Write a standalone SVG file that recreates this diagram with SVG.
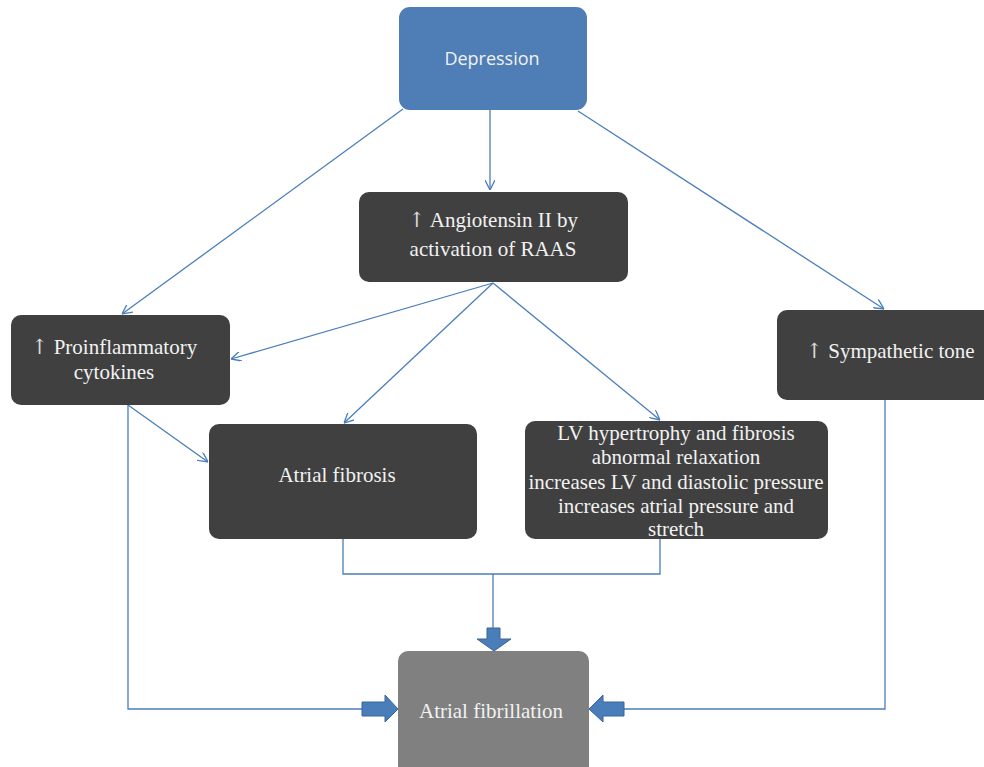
<svg xmlns="http://www.w3.org/2000/svg" width="984" height="767" viewBox="0 0 984 767">
<defs>
<marker id="v" viewBox="0 0 10 10" refX="10" refY="5" markerWidth="10" markerHeight="10" markerUnits="userSpaceOnUse" orient="auto">
<polyline points="0,0 10,5 0,10" fill="none" stroke="#4A7EBB" stroke-width="1.3"/>
</marker>
</defs>
<style>
.box{fill:#404040}
.t{font-family:"Liberation Serif","Times New Roman",serif;font-size:21px;fill:#F2F2F2;text-anchor:middle}
.s{font-family:"Open Sans","Liberation Sans",sans-serif;font-size:18px;fill:#F2F2F2;text-anchor:middle}
.a{font-family:"DejaVu Serif",serif;font-size:21px;fill:#D9D9D9}
.c{fill:none;stroke:#4A7EBB;stroke-width:1.3}
.blk{fill:#4A7EBB;stroke:#3A6597;stroke-width:1}
</style>
<rect width="984" height="767" fill="#fff"/>
<g id="connectors">
<line class="c" x1="490" y1="88" x2="490" y2="190" marker-end="url(#v)"/>
<line class="c" x1="403" y1="109" x2="122" y2="314" marker-end="url(#v)"/>
<line class="c" x1="578" y1="111" x2="884" y2="309" marker-end="url(#v)"/>
<line class="c" x1="493" y1="283" x2="231" y2="359" marker-end="url(#v)"/>
<line class="c" x1="493" y1="283" x2="344" y2="423" marker-end="url(#v)"/>
<line class="c" x1="493" y1="283" x2="660" y2="420" marker-end="url(#v)"/>
<line class="c" x1="128" y1="405" x2="208" y2="462" marker-end="url(#v)"/>
<polyline class="c" points="128,405 128,709 362,709"/>
<polyline class="c" points="885,400 885,709 624,709"/>
<polyline class="c" points="343,539 343,574 660,574 660,539"/>
<line class="c" x1="493" y1="574" x2="493" y2="628"/>
<polygon class="blk" points="487,628 500,628 500,639 511,639 494,651 477,639 487,639"/>
<polygon class="blk" points="362,702 385,702 385,695 398,709 385,722 385,716 362,716"/>
<polygon class="blk" points="624,702 603,702 603,695 589,709 603,722 603,716 624,716"/>
</g>
<g id="depression">
<rect x="399" y="7" width="188" height="103" rx="11" fill="#4F7DB5"/>
<text class="s" x="492" y="65">Depression</text>
</g>
<g id="angiotensin">
<rect class="box" x="359" y="192" width="269" height="90" rx="10"/>
<text class="t" x="493" y="227"><tspan class="a">↑</tspan> Angiotensin II by</text>
<text class="t" x="493" y="256">activation of RAAS</text>
</g>
<g id="proinflammatory">
<rect class="box" x="11" y="315" width="219" height="90" rx="10"/>
<text class="t" x="114" y="354"><tspan class="a">↑</tspan> Proinflammatory</text>
<text class="t" x="114" y="379">cytokines</text>
</g>
<g id="sympathetic">
<rect class="box" x="777" y="310" width="220" height="90" rx="10"/>
<text class="t" x="890" y="358"><tspan class="a">↑</tspan> Sympathetic tone</text>
</g>
<g id="atrial-fibrosis">
<rect class="box" x="209" y="424" width="268" height="115" rx="10"/>
<text class="t" x="337" y="482">Atrial fibrosis</text>
</g>
<g id="lv">
<rect class="box" x="525" y="421" width="303" height="118" rx="10"/>
<text class="t" x="676" y="440">LV hypertrophy and fibrosis</text>
<text class="t" x="676" y="464">abnormal relaxation</text>
<text class="t" x="676" y="489">increases LV and diastolic pressure</text>
<text class="t" x="676" y="513">increases atrial pressure and</text>
<text class="t" x="676" y="536">stretch</text>
</g>
<g id="atrial-fibrillation">
<rect x="398" y="651" width="191" height="130" rx="10" fill="#808080"/>
<text class="t" x="491" y="718">Atrial fibrillation</text>
</g>
</svg>
